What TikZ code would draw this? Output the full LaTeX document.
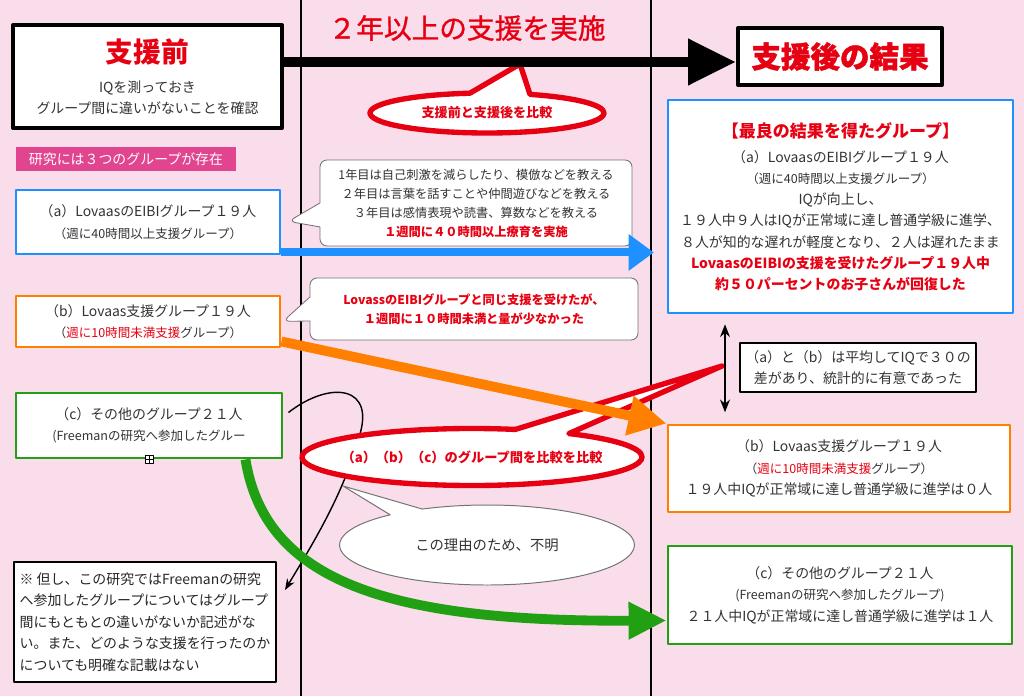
\documentclass[tikz,border=0pt]{standalone}
\usepackage{fontspec}
\setmainfont{Noto Sans CJK JP}
\newfontfamily\medfont[FakeBold=1]{Noto Sans CJK JP}
\newfontfamily\heavyfont[BoldFeatures={FakeBold=1.5}]{Noto Sans CJK JP}
\usetikzlibrary{positioning,calc,arrows.meta,shapes.geometric,shapes.callouts}
\definecolor{bgpink}{RGB}{249,221,235}
\definecolor{jred}{RGB}{230,0,18}
\definecolor{jblue}{RGB}{30,144,255}
\definecolor{jorange}{RGB}{255,128,0}
\definecolor{jgreen}{RGB}{34,160,20}
\definecolor{jmag}{RGB}{226,69,143}
\definecolor{jtext}{RGB}{51,51,51}
\newcommand{\pxu}{0.025cm}
\newcommand{\fmain}{\fontsize{9.9}{15.3}\selectfont}
\newcommand{\fsmall}{\fontsize{8.9}{15.3}\selectfont}
\newcommand{\fcall}{\fontsize{8.7}{13.5}\selectfont}
\begin{document}
\begin{tikzpicture}[x=\pxu,y=-\pxu,line join=round,
  box/.style={draw,fill=white,inner sep=0pt,align=center,text=jtext,font=\fmain},
  grp/.style={box,line width=2.1pt},
  hbox/.style={box,line width=2.8pt},
  sz/.style 2 args={minimum width=#1*\pxu,minimum height=#2*\pxu},
  say/.style={rectangle callout,draw=black!55,fill=white,rounded corners=5pt,line width=.6pt,
    inner sep=0pt,align=center,text=jtext,font=\fcall,callout pointer width=.6cm},
  redsay/.style={ellipse callout,draw=jred,fill=white,line width=3.8pt,inner sep=0pt,text=jred}]
\fill[bgpink] (0,0) rectangle (1024,696);
\useasboundingbox (0,0) rectangle (1024,696);
\draw[line width=1.4pt] (301,0) -- (301,696) (651,0) -- (651,696);
\node[text=jred,font=\medfont\fontsize{19.7}{22}\selectfont] (title) at (467,28) {２年以上の支援を実施};
% boxes on the left
\node[hbox,sz={269}{103}] (before) at (147.5,76.5)
  {{\fontsize{19.7}{22}\selectfont\bfseries\color{jred}支援前}\\[6pt]IQを測っておき\\グループ間に違いがないことを確認};
\node[fill=jmag,text=white,inner sep=0pt,font=\fmain,sz={220}{24}] (three) at (126,159) {研究には３つのグループが存在};
\node[grp,draw=jblue,sz={264}{64}] (grpA) at (148,222)
  {（a）LovaasのEIBIグループ１９人\\{\fsmall（週に40時間以上支援グループ）}};
\node[grp,draw=jorange,sz={264}{51}] (grpB) at (148,321.5)
  {（b）Lovaas支援グループ１９人\\{\fsmall（{\color{jred}週に10時間未満支援}グループ）}};
\node[grp,draw=jgreen,sz={266}{65}] (grpC) at (149,425.5)
  {（c）その他のグループ２１人\\{\fsmall (Freemanの研究へ参加したグルー}};
\node[draw,fill=white,line width=.5pt,inner sep=0pt,minimum size=8*\pxu] (handle) at (grpC.south) {};
\draw[line width=.4pt] (handle.north) -- (handle.south) (handle.west) -- (handle.east);
\node[box,text=black!85,line width=.9pt,align=left,sz={262}{120}] (note) at (145,622)
  {※ 但し、この研究ではFreemanの研究\\へ参加したグループについてはグループ\\間にもともとの違いがないか記述がな\\い。また、どのような支援を行ったのか\\についても明確な記載はない};
% boxes on the right
\node[hbox,sz={204}{57},font=\heavyfont\fontsize{21}{24}\selectfont\bfseries,text=jred] (after) at (840,56.5) {支援後の結果};
\node[grp,draw=jblue,sz={345}{213},font=\fontsize{9.9}{15}\selectfont] (resA) at (840.5,206.5)
  {{\fontsize{12.1}{15}\selectfont\bfseries\color{jred}【最良の結果を得たグループ】}\\[3pt]
   （a）LovaasのEIBIグループ１９人\\{\fsmall（週に40時間以上支援グループ）}\\IQが向上し、\\
   １９人中９人はIQが正常域に達し普通学級に進学、\\８人が知的な遅れが軽度となり、２人は遅れたまま\\
   {\bfseries\color{jred}LovaasのEIBIの支援を受けたグループ１９人中}\\{\bfseries\color{jred}約５０パーセントのお子さんが回復した}};
\node[box,line width=.8pt,sz={236}{49}] (stat) at (858,367.5) {（a）と（b）は平均してIQで３０の\\差があり、統計的に有意であった};
\node[grp,draw=jorange,sz={342}{87}] (resB) at (839,468.5)
  {（b）Lovaas支援グループ１９人\\{\fsmall（{\color{jred}週に10時間未満支援}グループ）}\\１９人中IQが正常域に達し普通学級に進学は０人};
\node[grp,draw=jgreen,sz={344}{98}] (resC) at (840,595)
  {（c）その他のグループ２１人\\{\fsmall (Freemanの研究へ参加したグループ)}\\２１人中IQが正常域に達し普通学級に進学は１人};
% callouts
\coordinate (cmpTip) at (520,64);
\coordinate (abcTip) at (722,366);
\coordinate (whyTip) at (343,486);
\coordinate (noteTip) at (285,590);
\node[say,sz={312}{86},callout absolute pointer={(grpA.east)},callout pointer shorten=5pt] (teach) at (476,203)
  {1年目は自己刺激を減らしたり、模倣などを教える\\２年目は言葉を話すことや仲間遊びなどを教える\\３年目は感情表現や読書、算数などを教える\\{\bfseries\color{jred}１週間に４０時間以上療育を実施}};
\node[say,sz={328}{62},text=jred,font=\fcall\bfseries,callout absolute pointer={(grpB.east)},callout pointer shorten=1pt] (less) at (474,309)
  {LovassのEIBIグループと同じ支援を受けたが、\\１週間に１０時間未満と量が少なかった};
\node[redsay,sz={234}{40},callout absolute pointer={(cmpTip)},callout pointer arc=30,font=\fontsize{9.3}{11}\selectfont\bfseries] (cmpBA) at (487,113) {支援前と支援後を比較};
\draw[line width=1pt,-{Stealth[length=8pt,width=6pt]}] ($(grpC.east)+(5,-13)$) .. controls (330,380) and (378,385) .. (358,440)
  .. controls (343,495) and (312,545) .. (noteTip);
\node[redsay,sz={340}{57},callout absolute pointer={(abcTip)},callout pointer arc=20] (abcCmp) at (472,457) {};
\node[text=jred,font=\fontsize{9.4}{11}\selectfont\bfseries] (abcText) at (abcCmp.center) {（a）（b）（c）のグループ間を比較を比較};
\node[ellipse callout,draw=black!55,fill=white,line width=.7pt,sz={295}{80},callout absolute pointer={(whyTip)},
  text=jtext,font=\fontsize{10.2}{12}\selectfont] (whyNot) at (487,545) {この理由のため、不明};
% arrows
\coordinate (ay) at (0,62);
\coordinate (bS) at ($(grpA.south east)+(0,-3)$);
\coordinate (dx) at (725,0);
\draw[line width=7.8pt,-{Triangle[length=34pt,width=31pt]}] (before.east |- ay) -- (after.west |- ay);
\draw[jblue,line width=5.7pt,-{Triangle[length=18pt,width=25pt]},shorten >=9pt] (bS) -- (bS -| resA.west);
\draw[jorange,line width=7pt,-{Triangle[length=27pt,width=27pt]}] ($(grpB.south east)+(0,-7)$) -- (resB.north west);
\draw[jgreen,line width=7pt,-{Triangle[length=27pt,width=25pt]}] ($(grpC.south east)+(-38,0)$) .. controls (265,580) and (385,622) .. ($(resC.south west)+(0,-25)$);
\draw[line width=1.3pt,{Stealth[length=9pt,width=7pt]}-{Stealth[length=9pt,width=7pt]},shorten <=7pt,shorten >=8pt] (resA.south -| dx) -- (resB.north -| dx);
\end{tikzpicture}
\end{document}
